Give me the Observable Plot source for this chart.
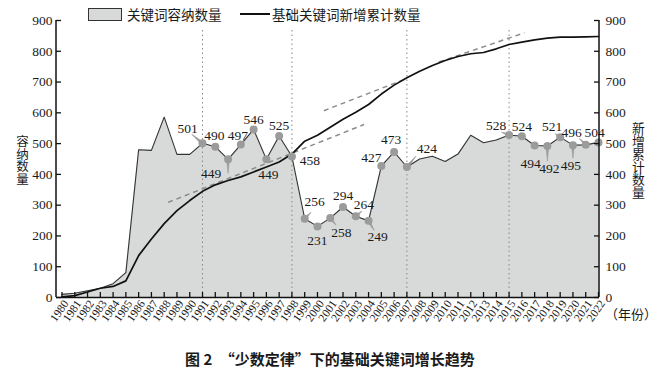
<!DOCTYPE html>
<html><head><meta charset="utf-8">
<script src="https://cdn.jsdelivr.net/npm/d3@7"></script>
<script src="https://cdn.jsdelivr.net/npm/@observablehq/plot@0.6"></script>
<style>
body{margin:0;background:#fff;}
#wrap{position:relative;width:660px;height:371px;overflow:hidden;font-family:"Noto Sans CJK SC","Noto Sans",sans-serif;color:#1a1a1a;}
#chart{position:absolute;left:0;top:0;}
.abs{position:absolute;white-space:nowrap;}
.vt{position:absolute;writing-mode:vertical-rl;text-orientation:upright;white-space:nowrap;letter-spacing:0;}
</style></head><body>
<div id="wrap"><div id="chart"></div></div>
<script>
// ---- data ----
const years = [1980,1981,1982,1983,1984,1985,1986,1987,1988,1989,1990,1991,1992,1993,1994,1995,1996,1997,1998,1999,2000,2001,2002,2003,2004,2005,2006,2007,2008,2009,2010,2011,2012,2013,2014,2015,2016,2017,2018,2019,2020,2021,2022];
const capacity = [10,14,22,30,45,81,480,478,586,465,465,501,490,449,497,546,449,525,458,256,231,258,294,264,249,427,473,424,450,459,442,466,527,503,512,528,524,494,492,521,495,496,504];
const cumulative = [2,6,18,30,36,54,136,190,240,282,315,345,366,380,392,408,424,440,466,508,527,553,579,602,627,661,690,714,735,754,770,783,792,796,808,822,830,837,843,846,846,847,848];
const labeledYears = [1991,1992,1993,1994,1995,1996,1997,1998,1999,2000,2001,2002,2003,2004,2005,2006,2007,2015,2016,2017,2018,2019,2020,2021,2022];
const periodYears = [1991,1998,2007,2015];
const yTicks = [0,100,200,300,400,500,600,700,800,900];
// trend lines (start year, start value, end year, end value)
const trendX1 = [1988.3, 2000.5, 2009.5];
const trendY1 = [309, 607, 765];
const trendX2 = [2003.65, 2006.9, 2016.2];
const trendY2 = [562, 710, 860];

const rows = years.map((y,i)=>({year:y, cap:capacity[i], cum:cumulative[i]}));
const labeled = rows.filter(d=>labeledYears.includes(d.year));
const trends = trendX1.map((x,i)=>({x1:x, y1:trendY1[i], x2:trendX2[i], y2:trendY2[i]}));

// ---- label layout (pixel offsets), leader lines (angle, length) ----
const labelOffset = {
  1991:[-15,-15],1992:[-1,-11],1993:[-17,14],1994:[-3,-9],1995:[0,-10],1996:[2,15],1997:[0,-10],1998:[18,4],
  1999:[10,-17],2000:[0,14],2001:[11,15],2002:[0,-11],2003:[8,-12],2004:[9,16],2005:[-10,-8],2006:[-3,-12],2007:[20,-18],
  2015:[-13,-9],2016:[0,-10],2017:[-4,18],2018:[2,23],2019:[-8,-10],2020:[-2,21],2021:[-14,-12],2022:[-4,-10]
};
const leaders = {1991:[-50,14],1993:[180,14],1999:[45,9],2001:[140,9],2003:[50,8],2004:[150,11],2007:[40,14],2015:[-70,8],2018:[180,15],2019:[-55,6],2020:[180,13],2021:[-45,9]};

const W=660,H=340,mT=20,mB=43,mL=56,mR=61;
const frameW=W-mL-mR, frameH=H-mT-mB;
const grey="#9b9b9b";

const marks = [
  Plot.areaY(rows,{x:"year",y:"cap",fill:"#d8dada"}),
  Plot.ruleX(periodYears,{x:d=>d,y1:0,y2:870,stroke:"#888",strokeDasharray:"1.5,3",strokeWidth:1}),
  Plot.link(trends,{x1:"x1",y1:"y1",x2:"x2",y2:"y2",stroke:"#8a8a8a",strokeWidth:1.5,strokeDasharray:"5,4"}),
  Plot.lineY(rows,{x:"year",y:"cap",stroke:"#333",strokeWidth:1.1}),
  Plot.lineY(rows,{x:"year",y:"cum",stroke:"#111",strokeWidth:1.7}),
  ...Object.entries(leaders).map(([yr,[a,l]])=>{
    const d=rows.find(r=>r.year===+yr);
    return Plot.vector([d],{x:"year",y:"cap",rotate:a,length:l,anchor:"start",shape:"spike",r:1.4,fill:grey,stroke:grey,strokeWidth:0.6});
  }),
  Plot.dot(labeled,{x:"year",y:"cap",r:4,fill:grey}),
  ...labeled.map(d=>{
    const [dx,dy]=labelOffset[d.year];
    return Plot.text([d],{x:"year",y:"cap",text:r=>String(r.cap),dx,dy,fontSize:13.5,fill:"#1a1a1a"});
  }),
  // inward ticks
  Plot.tickY(yTicks,{y:d=>d,insetRight:frameW-5,stroke:"#111",strokeWidth:1.3}),
  Plot.tickY(yTicks,{y:d=>d,insetLeft:frameW-5,stroke:"#111",strokeWidth:1.3}),
  Plot.tickX(years,{x:d=>d,insetTop:frameH-5,stroke:"#111",strokeWidth:1.3}),
  Plot.ruleY([0],{stroke:"#111",strokeWidth:1.5}),
  Plot.axisY({anchor:"left",ticks:yTicks,tickSize:0,tickPadding:4,label:null,fontSize:13.5}),
  Plot.axisY({anchor:"right",ticks:yTicks,tickSize:0,tickPadding:6,label:null,fontSize:13.5}),
  Plot.axisX({ticks:years,tickFormat:d=>String(d),tickSize:0,tickRotate:-55,tickPadding:4,dx:4,label:null,fontSize:11.5})
];

const chart = Plot.plot({
  width:W,height:H,marginTop:mT,marginBottom:mB,marginLeft:mL,marginRight:mR,
  x:{domain:[1980,2022],insetLeft:5.5,insetRight:1},
  y:{domain:[0,900]},
  style:{fontFamily:"'Liberation Serif',serif",fontSize:"13px",color:"#1a1a1a",background:"transparent",overflow:"visible"},
  marks
});
// axis lines
const svg=d3.select(chart);
svg.append("line").attr("x1",mL).attr("x2",mL).attr("y1",mT).attr("y2",H-mB).attr("stroke","#111").attr("stroke-width",1.5);
svg.append("line").attr("x1",W-mR).attr("x2",W-mR).attr("y1",mT).attr("y2",H-mB).attr("stroke","#111").attr("stroke-width",1.5);
document.getElementById("chart").appendChild(chart);

// ---- text & legend overlays ----
const wrap=document.getElementById("wrap");
function add(html,style,cls="abs"){const e=document.createElement("div");e.className=cls;e.innerHTML=html;Object.assign(e.style,style);wrap.appendChild(e);return e;}
add("",{left:"88px",top:"8px",width:"32px",height:"11px",background:"#d8dada",border:"1.3px solid #333"});
add("关键词容纳数量",{left:"127px",top:"5px",fontSize:"13.5px",lineHeight:"18px"});
add("",{left:"240px",top:"13px",width:"30px",height:"2px",background:"#111"});
add("基础关键词新增累计数量",{left:"272px",top:"5px",fontSize:"13.5px",lineHeight:"18px"});
add("容纳数量",{left:"15px",top:"135px",fontSize:"12.5px",lineHeight:"15px"},"vt");
add("新增累计数量",{left:"631px",top:"122px",fontSize:"12.8px",lineHeight:"15px"},"vt");
add("（年份）",{left:"605px",top:"307px",fontSize:"13px",lineHeight:"14px"});
add("图 2　“少数定律”下的基础关键词增长趋势",{left:"0",width:"660px",textAlign:"center",top:"349px",fontSize:"15px",lineHeight:"20px",fontWeight:"bold"});
</script></body></html>
